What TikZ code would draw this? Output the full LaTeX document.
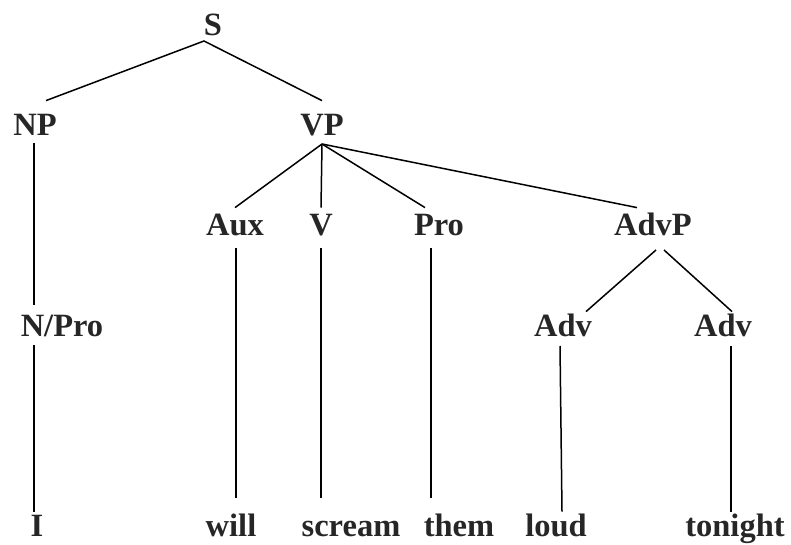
\documentclass[tikz,border=0pt]{standalone}
\usepackage{fontspec}
\setmainfont{Liberation Serif}

\tikzset{
    cat/.style={anchor=south, inner sep=0pt, text height=21pt, text depth=0pt,
        text=black!85, font=\fontsize{32.5}{38}\selectfont\bfseries},
    branch/.style={black, line width=1.5pt}
}

\begin{document}
\begin{tikzpicture}[x=1pt, y=-1pt]
            \useasboundingbox (0,0) rectangle (791,545);

            \node[cat] (S) at (213,36) {S};

            \node[cat] (NP) at (35,136) {NP};
            \node[cat] (VP) at (322,136) {VP};

            \node[cat] (Aux) at (235,236) {Aux};
            \node[cat] (V) at (321,236) {V};
            \node[cat] (Pro) at (439,236) {Pro};
            \node[cat] (AdvP) at (653,236) {AdvP};

            \node[cat] (NPro) at (62,337) {N/Pro};
            \node[cat] (AdvA) at (563,337) {Adv};
            \node[cat] (AdvB) at (723,337) {Adv};

            \node[cat] (wI) at (37,537) {I};
            \node[cat] (wWill) at (231,537) {will};
            \node[cat] (wScream) at (351,537) {scream};
            \node[cat] (wThem) at (459,537) {them};
            \node[cat] (wLoud) at (556,537) {loud};
            \node[cat] (wTonight) at (735,537) {tonight};

            \draw[branch] ([xshift=11pt,yshift=14pt]NP.north) -- ([xshift=-9pt,yshift=-5pt]S.south) -- ([yshift=14pt]VP.north);

            \draw[branch] ([yshift=7pt]Aux.north) -- ([yshift=-8pt]VP.south);
            \draw[branch] ([yshift=-8pt]VP.south) -- ([yshift=7pt]V.north);
            \draw[branch] ([yshift=-8pt]VP.south) -- ([xshift=-14pt,yshift=7pt]Pro.north);
            \draw[branch] ([yshift=-8pt]VP.south) -- ([xshift=-16pt,yshift=7pt]AdvP.north);

            \draw[branch] ([xshift=3pt,yshift=-14pt]AdvP.south) -- ([xshift=23pt,yshift=4pt]AdvA.north);
            \draw[branch] ([xshift=11pt,yshift=-14pt]AdvP.south) -- ([xshift=9pt,yshift=4pt]AdvB.north);

            \draw[branch] ([xshift=-1pt,yshift=-7pt]NP.south) -- ([xshift=-28pt,yshift=11pt]NPro.north);
            \draw[branch] ([xshift=-28pt,yshift=-8pt]NPro.south) -- ([xshift=-3pt,yshift=4pt]wI.north);

            \draw[branch] ([xshift=1pt,yshift=-12pt]Aux.south) -- ([xshift=5pt,yshift=18pt]wWill.north);
            \draw[branch] ([yshift=-12pt]V.south) -- ([xshift=-30pt,yshift=18pt]wScream.north);
            \draw[branch] ([xshift=-8pt,yshift=-12pt]Pro.south) -- ([xshift=-28pt,yshift=18pt]wThem.north);
            \draw[branch] ([xshift=-3pt,yshift=-9pt]AdvA.south) -- ([xshift=6pt,yshift=4pt]wLoud.north);
            \draw[branch] ([xshift=8pt,yshift=-9pt]AdvB.south) -- ([xshift=-4pt,yshift=4pt]wTonight.north);
        \end{tikzpicture}
\end{document}
